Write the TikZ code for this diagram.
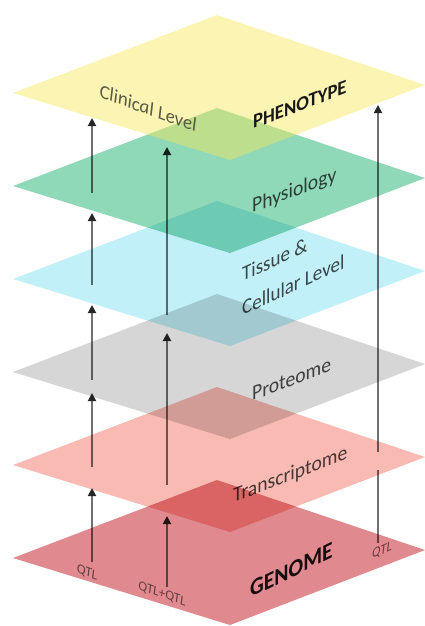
\documentclass[tikz,border=0pt]{standalone}
\usepackage{fontspec}
\setmainfont{Carlito}
\usetikzlibrary{arrows.meta}
\definecolor{cgenome}{HTML}{E08A8F}
\definecolor{ctranscr}{HTML}{F8BAB2}
\definecolor{cprot}{HTML}{D6D6D6}
\definecolor{ctissue}{HTML}{C2F0F8}
\definecolor{cphys}{HTML}{8FD8B8}
\definecolor{cpheno}{HTML}{F7E757}
\definecolor{cline}{HTML}{707070}
\definecolor{ctext}{HTML}{4C4C4C}
\definecolor{cclin}{HTML}{5A5A44}
\definecolor{cqtl}{HTML}{707070}
\begin{document}
\begin{tikzpicture}[x=1pt,y=-1pt,
  layerfill/.style={fill=#1, draw=none, blend mode=multiply},
  toplayer/.style={fill=#1, draw=none, fill opacity=0.45},
  up/.style={draw=cline, line width=1.8pt, -{Triangle[width=8pt,length=8pt,color=black!85]}},
  plain/.style={draw=cline, line width=1.8pt},
  rise/.style={inner sep=0pt, anchor=base west, font=\fontsize{21}{24}\selectfont, text=ctext},
  rA/.style={cm={0.934,0.358,0,1,(0,0)}},
  rB/.style={cm={0.906,0.423,0,1,(0,0)}},
  rC/.style={cm={0.90,0.44,0,1,(0,0)}},
  fall/.style={inner sep=0pt, anchor=center, cm={0.940,-0.342,0,1,(0,0)}},
  qtl/.style={inner sep=0pt, font=\itshape\fontsize{14}{16}\selectfont, text=cqtl}
]
\useasboundingbox (0,0) rectangle (425,626);

% labels under the tinted layers
\node[rise, rA] (physio) at (252,213) {Physiology};
\node[rise, rB] (tissueA) at (242,282) {Tissue \&};
\node[rise, rB] (tissueB) at (242,316) {Cellular Level};
\node[rise, rA] (prot) at (252,401) {Proteome};
\node[rise, rA] (transcr) at (233,503) {Transcriptome};
\node[rise, rC, font=\bfseries\fontsize{24}{28}\selectfont, text=black!90] (genome) at (250,598) {GENOME};
\node[qtl, fall] (qtlL) at (87,573) {QTL};
\node[qtl, fall] (qtlM) at (162,594) {QTL+QTL};
\node[qtl, anchor=base west, rB] (qtlR) at (372,559) {QTL};

% arrow end points
\foreach \n/\y in {a1/562,a2/488,a3/467,a4/393,a5/380,a6/305,a7/285,a8/213,a9/193,a10/118}
  \coordinate (L\n) at (92,\y);
\foreach \n/\y in {b1/587,b2/516,b3/485,b4/333,b5/315,b6/147}
  \coordinate (M\n) at (167,\y);
\foreach \n/\y in {c1/543,c2/470,c3/452,c4/105}
  \coordinate (R\n) at (378,\y);

\draw[up] (La1) -- (La2);
\draw[up] (La3) -- (La4);
\draw[up] (La5) -- (La6);
\draw[up] (La7) -- (La8);
\draw[up] (La9) -- (La10);
\draw[up] (Mb1) -- (Mb2);
\draw[up] (Mb3) -- (Mb4);
\draw[up] (Mb5) -- (Mb6);
\draw[plain] (Rc1) -- (Rc2);
\draw[up] (Rc3) -- (Rc4);

% layers
\foreach \k/\c in {0/cgenome,1/ctranscr,2/cprot,3/ctissue,4/cphys}
  \fill[layerfill=\c] (217,{480-93*\k}) -- (13,{558-93*\k}) -- (230,{625-93*\k}) -- (425,{550-93*\k}) -- cycle;
\fill[toplayer=cpheno] (217,15) -- (13,93) -- (230,160) -- (425,85) -- cycle;

% labels on the top layer
\node[fall, font=\itshape\fontsize{20}{24}\selectfont, text=cclin] (clinical) at (148,108) {Clinical Level};
\node[rise, rA, font=\bfseries\fontsize{20}{24}\selectfont, text=black!90] (pheno) at (253,129) {PHENOTYPE};
\end{tikzpicture}
\end{document}
